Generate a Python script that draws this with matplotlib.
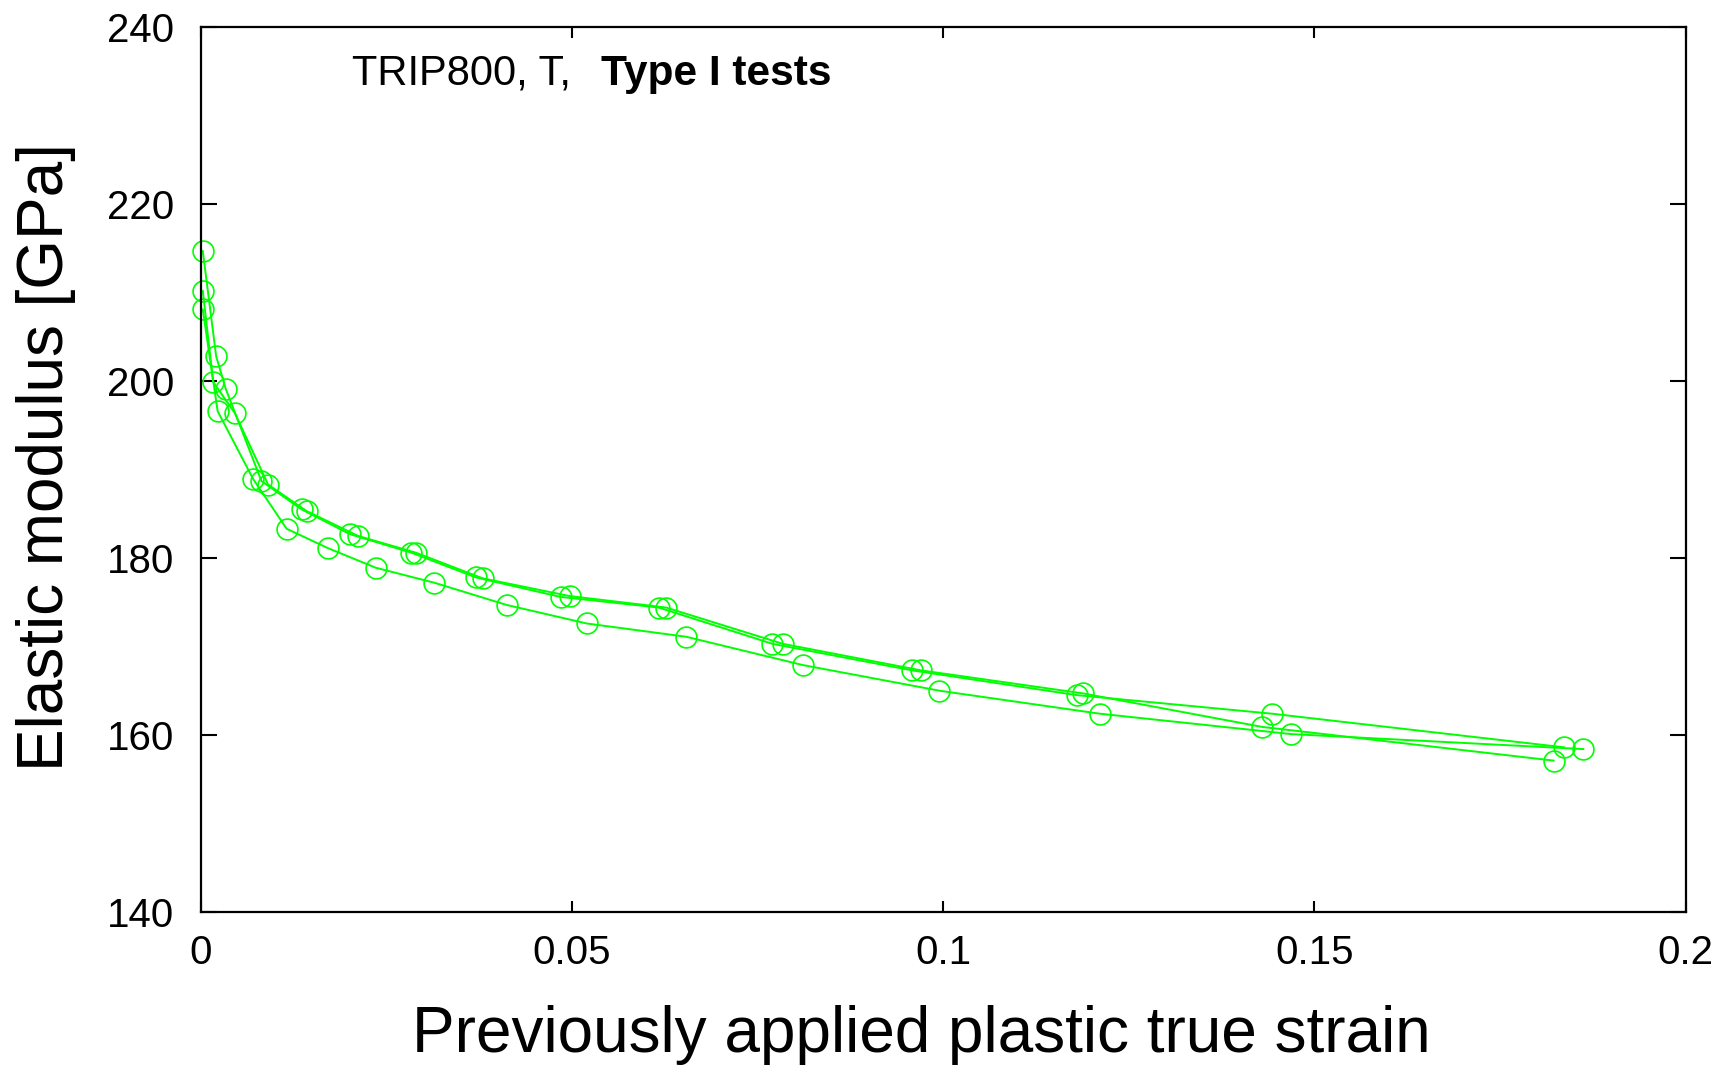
import matplotlib
matplotlib.use("Agg")
import matplotlib.pyplot as plt

plt.rcParams['font.family'] = ['Liberation Sans', 'DejaVu Sans']

# test 1 (upper curve)
strain_1 = [0.0003, 0.0021, 0.0034, 0.0082, 0.0136, 0.0201, 0.0284, 0.0371,
            0.0485, 0.0617, 0.0770, 0.0958, 0.1180, 0.1443, 0.1836]
modulus_1 = [214.7, 202.8, 199.1, 188.7, 185.5, 182.7, 180.6, 177.8,
             175.6, 174.4, 170.3, 167.3, 164.5, 162.4, 158.6]

# test 2 (upper curve, nearly on top of test 1)
strain_2 = [0.0003, 0.0017, 0.0046, 0.0091, 0.0143, 0.0212, 0.0290, 0.0380,
            0.0497, 0.0627, 0.0784, 0.0970, 0.1188, 0.1430, 0.1822]
modulus_2 = [210.2, 199.9, 196.4, 188.3, 185.3, 182.5, 180.6, 177.7,
             175.7, 174.4, 170.3, 167.3, 164.7, 160.9, 157.1]

# test 3 (lower curve)
strain_3 = [0.0003, 0.0023, 0.0071, 0.0116, 0.0172, 0.0236, 0.0315, 0.0412,
            0.0520, 0.0654, 0.0811, 0.0995, 0.1211, 0.1468, 0.1862]
modulus_3 = [208.1, 196.6, 188.9, 183.3, 181.1, 178.9, 177.2, 174.7,
             172.6, 171.1, 167.9, 165.0, 162.4, 160.1, 158.4]

x_ticks = [0, 0.05, 0.1, 0.15, 0.2]
x_labels = ['0', '0.05', '0.1', '0.15', '0.2']
y_ticks = [140, 160, 180, 200, 220, 240]

fig = plt.figure(figsize=(17.29, 10.69), dpi=100)
ax = fig.add_axes([0.116, 0.147, 0.859, 0.8275])

green = '#00ff00'
for xs, ys in [(strain_3, modulus_3), (strain_2, modulus_2), (strain_1, modulus_1)]:
    ax.plot(xs, ys, color=green, lw=1.4, marker='o', ms=15, mfc='none',
            mec=green, mew=1.2, clip_on=False)

ax.set_xlim(0, 0.2)
ax.set_ylim(140, 240)
ax.set_xticks(x_ticks)
ax.set_xticklabels(x_labels)
ax.set_yticks(y_ticks)

ax.tick_params(axis='both', direction='in', top=True, right=True,
               labelsize=29, width=1.5)
ax.tick_params(axis='x', length=8, pad=16)
ax.tick_params(axis='y', length=11.5, pad=19)
for sp in ax.spines.values():
    sp.set_linewidth(1.6)

ax.set_xlabel('Previously applied plastic true strain', fontsize=46, labelpad=24)
ax.set_ylabel('Elastic modulus [GPa]', fontsize=46, labelpad=22)
ax.xaxis.label.set_x(0.485)
ax.yaxis.label.set_y(0.514)

fig.text(352 / 1729, 1 - 85 / 1069, 'TRIP800, T, ', fontsize=30,
         ha='left', va='baseline')
fig.text(601 / 1729, 1 - 85 / 1069, 'Type I tests', fontsize=30.5,
         fontweight='bold', ha='left', va='baseline')

fig.savefig('out.png', dpi=100)
